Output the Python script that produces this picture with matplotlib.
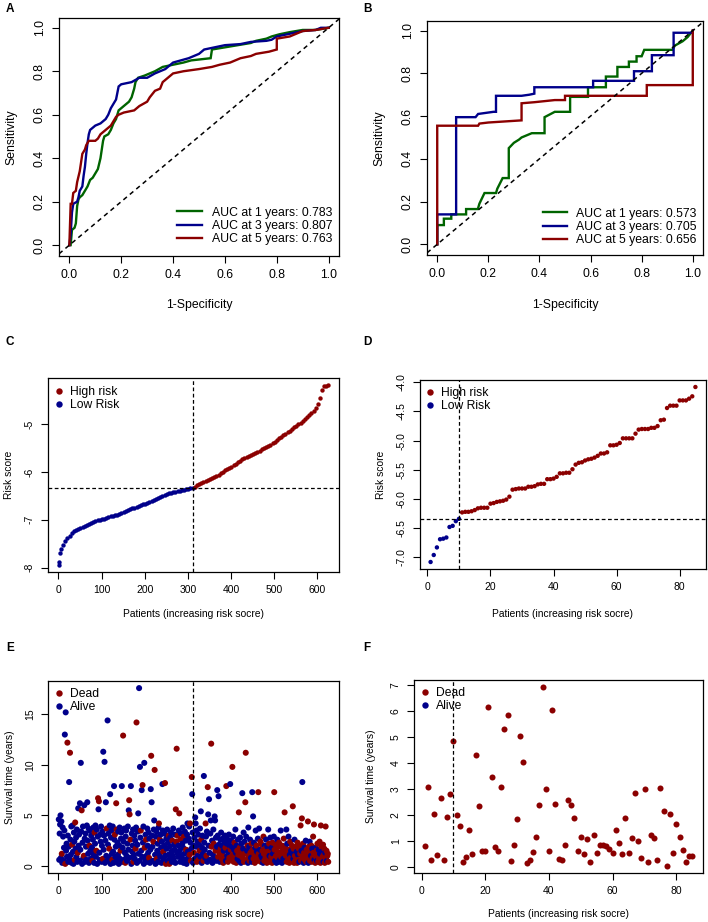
import matplotlib.pyplot as plt
from matplotlib.lines import Line2D
import numpy as np

plt.rcParams['font.family'] = ['Liberation Sans', 'DejaVu Sans']

W, H = 708, 922
RED = '#8B0000'
BLUE = '#00008B'
GREEN = '#006400'

# ---------------- ROC curves (fpr, tpr) ----------------
roc_a = {
    'AUC at 1 years: 0.783': [(0, 0), (0.005, 0.0), (0.01, 0.07), (0.02, 0.08), (0.025, 0.10), (0.03, 0.18),
                              (0.035, 0.21), (0.04, 0.22), (0.05, 0.23), (0.06, 0.25), (0.07, 0.27), (0.08, 0.30),
                              (0.09, 0.31), (0.10, 0.33), (0.11, 0.35), (0.12, 0.40), (0.125, 0.44), (0.13, 0.48),
                              (0.135, 0.50), (0.15, 0.51), (0.16, 0.53), (0.17, 0.56), (0.18, 0.58), (0.19, 0.62),
                              (0.21, 0.64), (0.23, 0.66), (0.24, 0.68), (0.25, 0.72), (0.255, 0.75), (0.265, 0.77),
                              (0.29, 0.78), (0.31, 0.79), (0.33, 0.80), (0.36, 0.82), (0.40, 0.83), (0.44, 0.84),
                              (0.47, 0.85), (0.545, 0.86), (0.55, 0.90), (0.60, 0.91), (0.65, 0.92), (0.70, 0.93),
                              (0.72, 0.94), (0.76, 0.95), (0.78, 0.96), (0.81, 0.97), (0.85, 0.98), (0.90, 0.99),
                              (0.95, 0.99), (1.0, 1.0)],
    'AUC at 3 years: 0.807': [(0, 0), (0.005, 0.05), (0.01, 0.15), (0.015, 0.19), (0.03, 0.20), (0.035, 0.22),
                              (0.04, 0.25), (0.05, 0.27), (0.055, 0.32), (0.06, 0.36), (0.065, 0.42), (0.07, 0.47),
                              (0.075, 0.51), (0.08, 0.53), (0.09, 0.54), (0.10, 0.55), (0.12, 0.56), (0.14, 0.58),
                              (0.15, 0.60), (0.16, 0.63), (0.17, 0.65), (0.18, 0.67), (0.185, 0.70), (0.19, 0.73),
                              (0.20, 0.74), (0.24, 0.75), (0.27, 0.77), (0.30, 0.77), (0.33, 0.79), (0.37, 0.81),
                              (0.40, 0.84), (0.43, 0.85), (0.46, 0.86), (0.50, 0.88), (0.52, 0.90), (0.56, 0.91),
                              (0.60, 0.92), (0.66, 0.925), (0.70, 0.935), (0.76, 0.94), (0.78, 0.945), (0.80, 0.96),
                              (0.86, 0.975), (0.90, 0.985), (0.95, 0.99), (0.97, 1.0), (1.0, 1.0)],
    'AUC at 5 years: 0.763': [(0, 0), (0.005, 0.19), (0.01, 0.19), (0.015, 0.24), (0.025, 0.25), (0.03, 0.29),
                              (0.04, 0.34), (0.045, 0.38), (0.05, 0.42), (0.06, 0.44), (0.065, 0.46), (0.075, 0.48),
                              (0.10, 0.48), (0.11, 0.49), (0.12, 0.51), (0.14, 0.53), (0.16, 0.55), (0.17, 0.57),
                              (0.18, 0.59), (0.19, 0.60), (0.21, 0.61), (0.25, 0.62), (0.27, 0.64), (0.30, 0.66),
                              (0.31, 0.68), (0.33, 0.71), (0.35, 0.72), (0.36, 0.75), (0.38, 0.77), (0.40, 0.79),
                              (0.44, 0.80), (0.50, 0.81), (0.55, 0.82), (0.58, 0.83), (0.62, 0.84), (0.66, 0.86),
                              (0.70, 0.87), (0.72, 0.88), (0.77, 0.89), (0.80, 0.90), (0.80, 0.95), (0.85, 0.96),
                              (0.90, 0.985), (0.95, 0.99), (1.0, 1.0)],
}
roc_b = {
    'AUC at 1 years: 0.573': [(0, 0), (0, 0.09), (0.026, 0.09), (0.026, 0.12), (0.055, 0.12), (0.055, 0.14),
                              (0.113, 0.14), (0.113, 0.165), (0.159, 0.165), (0.165, 0.19), (0.185, 0.24),
                              (0.23, 0.24), (0.235, 0.26), (0.256, 0.31), (0.28, 0.31), (0.28, 0.45), (0.30, 0.475),
                              (0.32, 0.49), (0.33, 0.50), (0.37, 0.52), (0.42, 0.52), (0.42, 0.595), (0.46, 0.62),
                              (0.52, 0.62), (0.52, 0.69), (0.59, 0.69), (0.59, 0.735), (0.66, 0.735), (0.66, 0.785),
                              (0.705, 0.785), (0.705, 0.83), (0.75, 0.83), (0.75, 0.855), (0.78, 0.855),
                              (0.78, 0.88), (0.80, 0.88), (0.81, 0.91), (0.92, 0.91), (0.93, 0.93), (0.96, 0.95),
                              (0.98, 0.97), (1.0, 1.0)],
    'AUC at 3 years: 0.705': [(0, 0), (0, 0.14), (0.074, 0.14), (0.074, 0.595), (0.15, 0.595), (0.16, 0.61),
                              (0.22, 0.62), (0.23, 0.62), (0.23, 0.695), (0.33, 0.695), (0.36, 0.70), (0.38, 0.705),
                              (0.38, 0.735), (0.61, 0.735), (0.61, 0.765), (0.77, 0.765), (0.77, 0.81), (0.84, 0.81),
                              (0.84, 0.885), (0.925, 0.885), (0.925, 0.99), (1.0, 0.99), (1.0, 1.0)],
    'AUC at 5 years: 0.656': [(0, 0), (0, 0.555), (0.16, 0.555), (0.165, 0.565), (0.20, 0.57), (0.33, 0.58),
                              (0.33, 0.66), (0.38, 0.665), (0.46, 0.675), (0.50, 0.675), (0.50, 0.695),
                              (0.82, 0.695), (0.82, 0.745), (1.0, 0.745), (1.0, 1.0)],
}
roc_colors = [GREEN, BLUE, RED]
roc_ticks = [0.0, 0.2, 0.4, 0.6, 0.8, 1.0]
roc_ticklabels = ['0.0', '0.2', '0.4', '0.6', '0.8', '1.0']

# ---------------- C: risk score, training set (every 5th patient) ----------------
c_low_patient = [1, 2, 3] + list(range(6, 312, 5))
c_low_score = [-7.94, -7.88, -7.70,
               -7.62, -7.52, -7.44, -7.38, -7.33, -7.28, -7.24, -7.21, -7.19, -7.17,
               -7.15, -7.13, -7.11, -7.09, -7.07, -7.05, -7.03, -7.01, -7.00, -6.99,
               -6.98, -6.96, -6.95, -6.93, -6.92, -6.90, -6.89, -6.87, -6.86, -6.84,
               -6.82, -6.80, -6.78, -6.76, -6.75, -6.73, -6.71, -6.69, -6.67, -6.66,
               -6.64, -6.62, -6.60, -6.59, -6.57, -6.55, -6.53, -6.50, -6.48, -6.46,
               -6.45, -6.44, -6.42, -6.41, -6.40, -6.39, -6.38, -6.37, -6.36, -6.35,
               -6.34, -6.33]
c_high_patient = list(range(316, 622, 5)) + [624]
c_high_score = [-6.31, -6.28, -6.25, -6.23, -6.21, -6.19, -6.17, -6.15, -6.13, -6.11,
                -6.09, -6.06, -6.03, -6.00, -5.97, -5.94, -5.92, -5.89, -5.86, -5.83,
                -5.80, -5.77, -5.74, -5.71, -5.69, -5.67, -5.65, -5.62, -5.60, -5.58,
                -5.56, -5.53, -5.50, -5.48, -5.45, -5.43, -5.40, -5.37, -5.33, -5.30,
                -5.27, -5.24, -5.20, -5.17, -5.14, -5.10, -5.07, -5.04, -5.00, -4.97,
                -4.94, -4.90, -4.86, -4.82, -4.77, -4.72, -4.66, -4.58, -4.45, -4.30,
                -4.21, -4.20, -4.19]
c_n = 625
c_cut_patient = 312
c_cut_score = -6.34

# ---------------- D: risk score, validation set ----------------
d_score = [-7.08, -6.96, -6.83, -6.69, -6.68, -6.66, -6.48, -6.46, -6.38, -6.34,
           -6.23, -6.22, -6.22, -6.21, -6.19, -6.16, -6.15, -6.15, -6.15, -6.08,
           -6.07, -6.05, -6.04, -6.03, -6.01, -5.96, -5.84, -5.83, -5.82, -5.82,
           -5.82, -5.79, -5.79, -5.78, -5.75, -5.74, -5.74, -5.66, -5.66, -5.65,
           -5.62, -5.56, -5.56, -5.55, -5.55, -5.49, -5.41, -5.38, -5.37, -5.34,
           -5.32, -5.31, -5.29, -5.26, -5.22, -5.22, -5.20, -5.08, -5.08, -5.07,
           -5.04, -4.96, -4.96, -4.96, -4.96, -4.88, -4.81, -4.80, -4.80, -4.80,
           -4.78, -4.78, -4.75, -4.65, -4.64, -4.44, -4.40, -4.40, -4.40, -4.31,
           -4.31, -4.31, -4.28, -4.24, -4.08]
d_low_count = 10
d_cut_score = -6.34

# ---------------- E: survival, training set (1 = dead) ----------------
e_time = [
    4.6, 0.6, 3.2, 4.1, 5.0, 0.8, 4.4, 1.2, 0.3, 3.8, 2.9, 0.5, 1.8, 3.5, 13.0, 0.2, 15.2, 1.5, 2.2, 0.9, 12.2, 3.0, 0.4, 1.9, 8.3,
    0.7, 11.2, 2.6, 1.1, 3.9, 0.3, 2.1, 4.0, 1.4, 0.2, 3.3, 2.4, 0.6, 4.3, 1.7, 2.8, 0.9, 3.6, 0.4, 1.3, 5.7, 2.0, 3.1, 0.5, 6.2,
    1.6, 10.2, 3.4, 5.5, 0.2, 2.3, 3.9, 0.8, 1.0, 6.0, 2.7, 0.4, 3.2, 1.9, 0.6, 4.0, 6.3, 2.5, 1.2, 3.7, 0.3, 2.0, 3.5, 1.5, 0.7,
    3.0, 1.4, 1.8, 0.5, 2.6, 3.8, 1.1, 0.3, 3.3, 2.2, 4.0, 0.9, 1.5, 3.6, 0.2, 2.9, 6.7, 5.6, 6.4, 1.3, 0.6, 3.1, 2.4, 3.9, 0.4,
    2.0, 3.4, 0.7, 11.3, 1.6, 3.0, 10.3, 0.3, 2.5, 6.3, 1.0, 3.7, 0.5, 14.4, 2.1, 3.2, 0.8, 1.7, 4.0, 7.1, 0.2, 2.8, 3.5, 1.2, 0.6,
    3.9, 1.4, 0.3, 7.9, 2.6, 3.1, 0.9, 1.9, 6.2, 3.6, 0.5, 2.3, 1.1, 3.4, 0.2, 2.0, 3.8, 0.7, 1.5, 2.7, 3.3, 7.9, 0.4, 1.8, 12.9,
    2.4, 0.6, 3.7, 1.3, 0.3, 2.9, 3.5, 1.0, 0.5, 2.2, 3.9, 1.6, 5.5, 6.5, 5.1, 0.8, 2.6, 7.9, 0.2, 3.2, 1.4, 2.0, 3.6, 0.4, 1.1,
    3.0, 0.7, 2.5, 1.7, 3.8, 14.2, 0.3, 2.1, 3.4, 5.2, 1.2, 17.6, 0.5, 9.8, 2.8, 3.5, 1.5, 7.5, 0.9, 8.0, 2.3, 3.9, 0.2, 10.2, 1.8,
    0.6, 3.1, 2.6, 1.0, 0.4, 3.7, 2.0, 1.3, 3.3, 0.8, 2.7, 0.3, 1.6, 7.6, 10.9, 6.3, 3.0, 1.9, 0.5, 2.4, 3.6, 4.5, 9.5, 1.1, 0.2,
    2.9, 3.4, 0.7, 1.5, 2.2, 0.4, 3.8, 4.2, 1.2, 2.6, 0.9, 3.1, 1.8, 0.3, 2.4, 8.1, 3.5, 1.4, 0.6, 2.0, 3.2, 8.2, 1.0, 0.2, 2.7,
    1.7, 3.6, 0.5, 2.3, 1.1, 3.0, 0.2, 1.9, 2.8, 0.8, 3.3, 1.4, 0.4, 2.5, 1.0, 3.7, 0.6, 2.1, 1.6, 3.1, 0.3, 5.6, 2.4, 11.6, 1.3,
    3.0, 0.9, 2.0, 3.5, 5.2, 1.5, 0.4, 2.6, 3.2, 1.0, 0.7, 2.2, 3.8, 1.8, 0.3, 2.9, 1.2, 3.4, 0.6, 2.5, 1.6, 0.2, 3.1, 4.2, 1.4,
    0.8, 2.7, 3.9, 1.1, 4.2, 2.3, 0.5, 1.7, 8.8, 7.1, 3.3, 0.3, 2.0, 1.3, 2.8, 0.7, 4.8, 4.2, 1.9, 3.5, 0.4, 2.4, 1.0, 3.1, 0.6,
    2.1, 1.5, 3.7, 0.9, 5.4, 2.6, 0.3, 1.8, 3.0, 1.2, 0.5, 8.9, 2.3, 1.6, 0.8, 4.2, 2.9, 1.0, 3.4, 0.4, 7.8, 5.1, 2.0, 6.6, 1.3,
    0.6, 3.2, 4.5, 12.1, 1.9, 2.5, 0.3, 1.1, 3.6, 2.2, 0.8, 4.9, 4.5, 1.5, 2.8, 0.5, 1.9, 7.5, 3.0, 0.9, 6.9, 2.1, 1.3, 0.4, 2.6,
    1.7, 3.3, 0.7, 2.0, 1.2, 2.7, 0.3, 1.5, 2.4, 0.9, 3.0, 1.8, 0.5, 7.9, 2.2, 1.0, 2.6, 0.4, 1.4, 3.1, 0.8, 2.0, 8.1, 1.6, 2.5,
    0.6, 1.9, 9.8, 1.1, 2.9, 0.4, 1.6, 2.3, 0.9, 3.6, 1.3, 0.3, 2.0, 1.5, 0.7, 2.6, 1.1, 5.3, 0.5, 1.8, 2.8, 1.0, 0.3, 2.2, 1.4,
    7.2, 0.8, 1.7, 3.3, 0.4, 2.4, 1.2, 6.3, 11.2, 2.9, 0.6, 1.5, 2.0, 0.3, 3.8, 1.0, 1.9, 0.5, 2.6, 1.3, 0.8, 2.2, 0.4, 7.3, 1.6,
    4.9, 0.7, 2.3, 1.1, 0.3, 1.8, 3.5, 0.9, 2.0, 1.4, 0.5, 2.7, 7.3, 1.2, 3.7, 0.6, 1.6, 2.4, 0.4, 1.0, 2.1, 0.8, 1.5, 0.3, 2.9,
    1.2, 0.5, 2.0, 1.7, 0.8, 2.6, 1.1, 0.3, 1.9, 1.4, 3.6, 0.6, 2.2, 1.0, 0.4, 2.8, 1.5, 0.9, 1.8, 0.3, 2.3, 1.2, 0.7, 2.9, 7.3,
    1.6, 0.5, 2.1, 1.0, 0.3, 1.8, 2.6, 0.8, 1.3, 0.4, 2.3, 1.1, 0.6, 1.9, 3.5, 0.9, 1.4, 0.3, 2.0, 1.2, 0.7, 2.7, 1.5, 5.3, 0.5,
    1.8, 1.0, 3.6, 0.4, 2.2, 1.3, 0.6, 2.9, 1.6, 0.3, 1.1, 2.4, 0.8, 1.5, 0.5, 2.0, 1.2, 5.9, 0.7, 1.7, 0.3, 2.6, 1.0, 0.5, 1.9,
    0.8, 1.4, 0.3, 2.3, 1.1, 0.6, 1.7, 0.4, 2.0, 1.2, 4.0, 0.5, 1.5, 4.7, 8.3, 0.9, 2.2, 0.3, 1.3, 1.8, 0.6, 1.0, 2.5, 0.4, 1.6,
    0.7, 1.2, 4.4, 0.3, 1.9, 0.9, 2.4, 0.5, 1.4, 1.0, 2.0, 0.4, 1.7, 0.8, 2.9, 1.3, 4.1, 0.6, 1.1, 0.3, 1.8, 0.9, 1.5, 0.5, 2.2,
    1.0, 0.4, 1.6, 0.7, 2.4, 1.2, 0.3, 4.0, 1.9, 0.6, 1.4, 0.9, 2.1, 0.4, 1.1, 1.7, 0.3, 1.3, 3.9, 0.7, 1.5, 0.5, 1.0, 1.2, 0.4,
]
e_status = [
    0,0,0,0,0,0,0,1,0,0,0,0,0,0,0,1,0,0,0,0,1,0,0,0,0,
    0,1,0,0,0,0,1,0,0,0,0,0,1,1,0,0,0,0,0,1,0,0,0,0,0,
    0,0,0,1,0,0,0,0,1,0,0,0,0,0,0,0,0,0,0,0,0,1,0,0,0,
    0,0,0,1,0,0,0,0,1,0,0,0,1,0,0,0,1,0,1,0,0,0,0,0,0,
    0,0,1,0,0,0,0,0,0,0,0,1,0,0,0,0,0,1,0,0,0,0,0,0,1,
    0,0,0,0,0,1,0,0,1,1,0,0,0,0,0,0,0,0,1,0,0,0,0,0,1,
    0,0,0,0,1,0,0,0,0,0,0,0,0,1,1,0,1,0,0,0,0,0,0,1,0,
    0,0,0,1,0,1,0,0,0,0,0,0,0,0,0,1,0,0,0,1,0,0,0,0,1,
    0,0,1,0,0,0,0,0,0,1,0,0,0,0,1,0,0,0,0,1,0,0,1,0,0,
    0,0,1,0,0,0,0,1,0,1,0,0,0,0,0,0,0,1,0,0,0,1,0,1,0,
    0,0,0,0,0,1,1,0,0,0,0,0,0,1,0,0,0,0,0,0,0,1,1,1,0,
    1,0,0,0,1,0,0,1,0,0,0,0,0,0,0,1,0,0,0,0,1,0,0,0,0,
    0,0,0,1,1,0,1,0,1,0,0,0,0,1,0,0,0,0,0,0,1,0,0,0,1,
    0,1,0,0,0,1,0,0,0,0,1,0,0,0,0,1,0,1,0,0,1,0,0,0,0,
    0,0,0,1,1,0,0,0,0,1,0,0,0,1,0,0,0,0,0,1,0,0,1,0,0,
    1,0,1,0,1,0,1,0,0,1,0,1,0,1,0,0,0,1,0,0,1,0,0,1,0,
    1,0,1,1,0,1,0,1,1,0,0,1,0,1,0,0,1,1,0,1,0,1,0,0,1,
    0,1,0,0,1,0,1,1,1,0,1,0,1,0,0,1,0,1,0,1,0,1,0,0,1,
    0,1,0,1,1,0,0,1,1,0,1,0,1,1,0,1,0,1,1,0,1,0,1,0,1,
    1,1,0,1,1,0,1,1,0,1,0,1,1,0,1,0,1,1,0,1,1,0,1,0,1,
    1,0,1,1,0,1,0,1,1,0,1,1,0,1,0,1,1,0,1,1,0,1,1,1,0,
    1,1,0,1,0,1,1,0,1,1,0,1,1,0,1,1,0,1,0,1,1,0,1,1,1,
    1,0,1,1,0,1,1,0,1,1,1,1,0,1,0,1,1,0,1,0,1,1,0,1,1,
    1,1,1,0,1,1,0,1,1,0,1,1,0,1,1,1,1,0,1,1,0,1,1,0,1,
    1,1,0,1,1,0,1,1,1,1,0,1,1,0,1,1,1,0,1,1,1,0,1,1,1,
]
e_cut_patient = 312

# ---------------- F: survival, validation set (all dead) ----------------
f_time = [0.80, 3.08, 0.27, 2.02, 0.47, 2.65, 0.26, 1.94, 2.82, 4.86,
          2.00, 1.58, 0.17, 0.40, 1.42, 0.49, 4.31, 2.35, 0.62, 0.62,
          6.17, 3.45, 0.75, 0.63, 3.07, 5.30, 5.86, 0.22, 0.85, 1.85,
          5.05, 4.06, 0.14, 0.28, 0.58, 1.16, 2.37, 6.93, 3.01, 0.63,
          6.03, 2.43, 0.32, 0.27, 0.85, 2.56, 2.38, 1.89, 0.60, 1.16,
          0.49, 1.07, 0.18, 1.24, 0.54, 0.83, 0.83, 0.79, 0.69, 0.54,
          1.41, 0.92, 0.48, 1.90, 0.53, 1.11, 2.85, 1.00, 0.36, 3.01,
          0.19, 1.24, 1.11, 0.25, 3.04, 2.17, 0.04, 2.02, 0.52, 1.64,
          1.15, 0.66, 0.17, 0.43, 0.43]
f_cut_patient = 10

fig = plt.figure(figsize=(W / 100, H / 100), dpi=100)


def box(l, t, r, b):
    return fig.add_axes([l / W, 1 - b / H, (r - l) / W, (b - t) / H])


def style(ax, xt, xtl, yt, ytl, fs):
    for sp in ax.spines.values():
        sp.set_linewidth(0.9)
    ax.set_xticks(xt)
    ax.set_xticklabels(xtl)
    ax.set_yticks(yt)
    ax.set_yticklabels(ytl)
    ax.tick_params(direction='out', length=5, width=0.8, labelsize=fs, pad=4.5)
    plt.setp(ax.get_yticklabels(), rotation=90, va='center')


def labels(ax, l, t, r, b, xlab, xl_y, ylab, yl_x, fs):
    ax.set_xlabel(xlab, fontsize=fs, va='center')
    ax.set_ylabel(ylab, fontsize=fs, va='center')
    ax.xaxis.set_label_coords(0.5, -(xl_y - b) / (b - t))
    ax.yaxis.set_label_coords(-(l - yl_x) / (r - l), 0.5)


def roc_panel(rect, curves, xl_y, yl_x, leg_anchor, hl):
    l, t, r, b = rect
    ax = box(*rect)
    for (lab, pts), col in zip(curves.items(), roc_colors):
        pts = np.array(pts)
        ax.plot(pts[:, 0], pts[:, 1], color=col, lw=1.7, label=lab, solid_joinstyle='miter')
    ax.axline((0, 0), (1, 1), color='black', lw=1.1, ls=(0, (3, 2.5)))
    ax.set_xlim(-0.04, 1.04)
    ax.set_ylim(-0.05, 1.045)
    style(ax, roc_ticks, roc_ticklabels, roc_ticks, roc_ticklabels, 8.7)
    labels(ax, l, t, r, b, '1-Specificity', xl_y, 'Sensitivity', yl_x, 8.8)
    ax.legend(loc='lower right', bbox_to_anchor=leg_anchor, borderaxespad=0, borderpad=0,
              frameon=False, fontsize=8.8, handlelength=hl, handletextpad=0.8, labelspacing=0.1)
    return ax


def dot_legend(ax, names, cols, anchor):
    handles = [Line2D([], [], ls='none', marker='o', ms=4.6, color=c, mew=0) for c in cols]
    ax.legend(handles, names, loc='upper left', bbox_to_anchor=anchor, borderaxespad=0, borderpad=0,
              frameon=False, fontsize=8.7, handlelength=0.8, handletextpad=0.5, labelspacing=0.1)


def pad(lo, hi):
    d = (hi - lo) * 0.04
    return lo - d, hi + d


# A
roc_panel((59, 18, 339, 256), roc_a, 305, 11, (0.975, 0.046), 2.05)
# B
roc_panel((427, 21, 703, 255), roc_b, 305, 379, (0.978, 0.038), 1.9)

dash = (0, (3, 2))
lower_fs = 7.5

# C
rect = (48, 378, 339, 572)
ax = box(*rect)
ax.scatter(c_low_patient, c_low_score, s=10, color=BLUE, linewidths=0)
ax.scatter(c_high_patient, c_high_score, s=10, color=RED, linewidths=0)
ax.axvline(c_cut_patient, color='black', lw=0.9, ls=dash)
ax.axhline(c_cut_score, color='black', lw=0.9, ls=dash)
ax.set_xlim(*pad(1, c_n))
ax.set_ylim(*pad(min(c_low_score), max(c_high_score)))
style(ax, [0, 100, 200, 300, 400, 500, 600], ['0', '100', '200', '300', '400', '500', '600'],
      [-8, -7, -6, -5], ['-8', '-7', '-6', '-5'], lower_fs)
labels(ax, *rect, 'Patients (increasing risk socre)', 614, 'Risk score', 9, 7.4)
dot_legend(ax, ['High risk', 'Low Risk'], [RED, BLUE], (0.021, 0.959))

# D
rect = (420, 380, 706, 569)
ax = box(*rect)
d_patient = np.arange(1, len(d_score) + 1)
d_cols = [BLUE if p <= d_low_count else RED for p in d_patient]
ax.scatter(d_patient, d_score, s=10, c=d_cols, linewidths=0)
ax.axvline(d_low_count, color='black', lw=0.9, ls=dash)
ax.axhline(d_cut_score, color='black', lw=0.9, ls=dash)
ax.set_xlim(*pad(1, len(d_score)))
ax.set_ylim(*pad(min(d_score), max(d_score)))
style(ax, [0, 20, 40, 60, 80], ['0', '20', '40', '60', '80'],
      [-7.0, -6.5, -6.0, -5.5, -5.0, -4.5, -4.0], ['-7.0', '-6.5', '-6.0', '-5.5', '-5.0', '-4.5', '-4.0'], lower_fs)
labels(ax, *rect, 'Patients (increasing risk socre)', 614, 'Risk score', 381, 7.4)
dot_legend(ax, ['High risk', 'Low Risk'], [RED, BLUE], (0.017, 0.963))

# E
rect = (48, 681, 339, 873)
ax = box(*rect)
e_patient = np.arange(1, len(e_time) + 1)
e_cols = [RED if s else BLUE for s in e_status]
ax.scatter(e_patient, e_time, s=19, c=e_cols, linewidths=0)
ax.axvline(e_cut_patient, color='black', lw=0.9, ls=dash)
ax.set_xlim(*pad(1, len(e_time)))
ax.set_ylim(*pad(0, max(e_time)))
style(ax, [0, 100, 200, 300, 400, 500, 600], ['0', '100', '200', '300', '400', '500', '600'],
      [0, 5, 10, 15], ['0', '5', '10', '15'], lower_fs)
labels(ax, *rect, 'Patients (increasing risk socre)', 914, 'Survival time (years)', 10, 7.4)
dot_legend(ax, ['Dead', 'Alive'], [RED, BLUE], (0.021, 0.964))

# F
rect = (414, 680, 703, 873)
ax = box(*rect)
f_patient = np.arange(1, len(f_time) + 1)
ax.scatter(f_patient, f_time, s=19, color=RED, linewidths=0)
ax.axvline(f_cut_patient, color='black', lw=0.9, ls=dash)
ax.set_xlim(*pad(1, len(f_time)))
ax.set_ylim(*pad(min(f_time), max(f_time)))
style(ax, [0, 20, 40, 60, 80], ['0', '20', '40', '60', '80'],
      list(range(8)), [str(v) for v in range(8)], lower_fs)
labels(ax, *rect, 'Patients (increasing risk socre)', 914, 'Survival time (years)', 371, 7.4)
dot_legend(ax, ['Dead', 'Alive'], [RED, BLUE], (0.021, 0.964))

# panel letters
for letter, x, y in [('A', 10, 9), ('B', 367, 9), ('C', 10, 342), ('D', 367, 342), ('E', 10, 648), ('F', 367, 648)]:
    fig.text(x / W, 1 - y / H, letter, fontsize=8.5, fontweight='bold', ha='center', va='center')

fig.savefig('out.png', dpi=100)
